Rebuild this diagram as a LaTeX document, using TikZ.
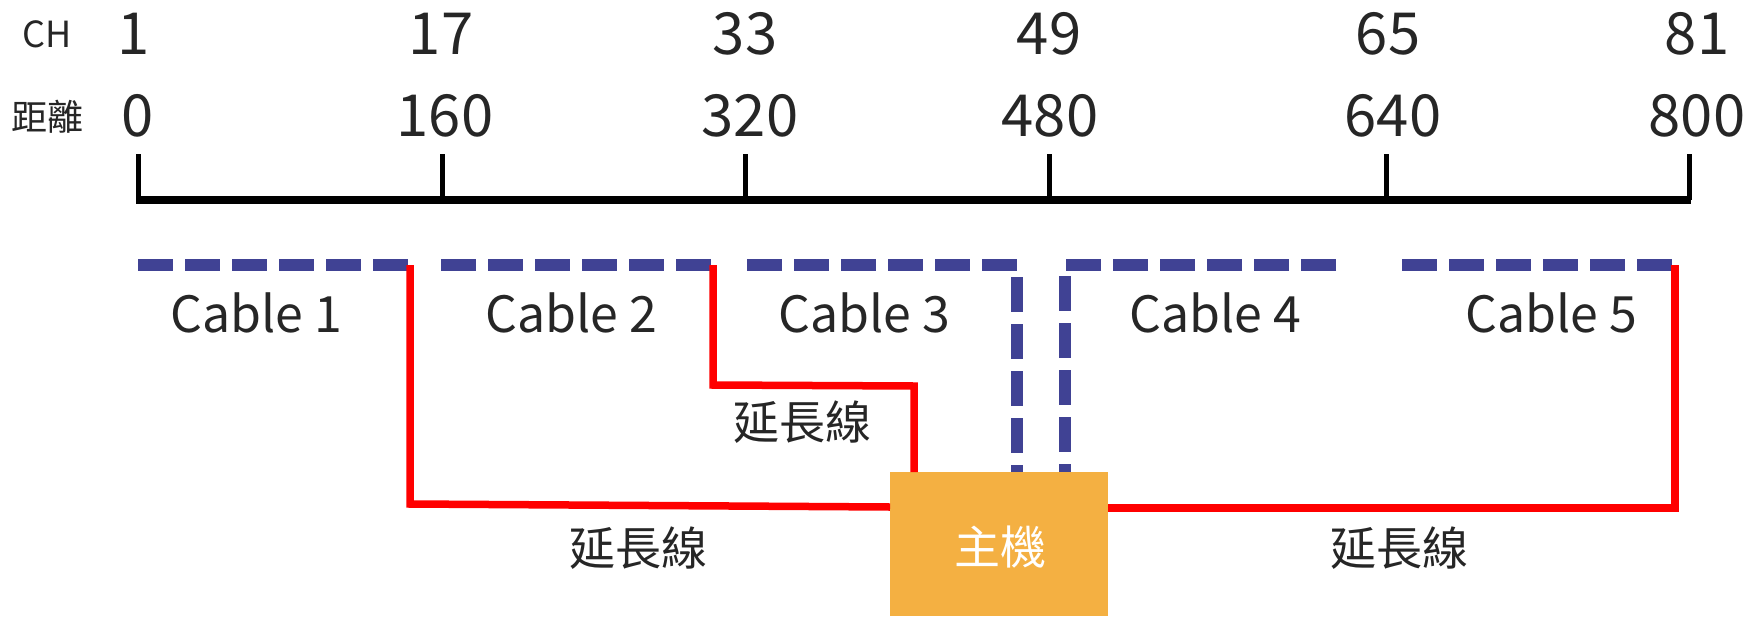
\documentclass[tikz,border=0pt]{standalone}
\usepackage{fontspec}
\setmainfont{Noto Sans CJK TC}
\definecolor{txt}{HTML}{262626}
\definecolor{cblue}{HTML}{404294}
\definecolor{cred}{HTML}{FF0000}
\definecolor{corange}{HTML}{F4B042}
\begin{document}
\begin{tikzpicture}[x=1pt,y=-1pt,
  lbl/.style={text=txt,inner sep=0pt,anchor=center},
  num/.style={lbl,font=\fontsize{58}{60}\selectfont},
  small/.style={lbl,font=\fontsize{36}{38}\selectfont},
  cab/.style={lbl,font=\fontsize{50}{52}\selectfont},
  ext/.style={lbl,font=\fontsize{46}{48}\selectfont},
  axis/.style={line width=7.5pt,black},
  tick/.style={line width=5pt,black},
  cable/.style={line width=11.5pt,cblue,dash pattern=on 35pt off 12pt},
  extline/.style={line width=7.5pt,cred},
  host/.style={fill=corange,draw=none,minimum width=218pt,minimum height=144pt,inner sep=0pt,text=white,font=\fontsize{46}{48}\selectfont}]
\useasboundingbox (0,0) rectangle (1761,616);
\fill[white] (0,0) rectangle (1761,616);
% header labels
\node[small] (chlbl) at (47,34) {CH};
\node[small] (distlbl) at (47,117) {距離};
% channel numbers
\node[num] (ch1) at (134,34) {1};
\node[num] (ch17) at (441,34) {17};
\node[num] (ch33) at (745,34) {33};
\node[num] (ch49) at (1049,34) {49};
\node[num] (ch65) at (1388,34) {65};
\node[num] (ch81) at (1697,34) {81};
% distances
\node[num] (d0) at (138,116) {0};
\node[num] (d160) at (445,116) {160};
\node[num] (d320) at (750,116) {320};
\node[num] (d480) at (1050,116) {480};
\node[num] (d640) at (1393,116) {640};
\node[num] (d800) at (1697,116) {800};
% axis
\coordinate (a0) at (136,200);
\coordinate (a800) at (1691,200);
\draw[axis] (a0) -- (a800);
\foreach \x/\n in {138/0,442/1,745/2,1049/3,1386/4,1689/5}{
  \coordinate (t\n) at (\x,154);
  \coordinate (b\n) at (\x,200);
  \draw[tick] (t\n) -- (b\n);
}
% host
\node[host,anchor=north west] (host) at (890,472) {};
\node[text=white,inner sep=0pt,font=\fontsize{46}{48}\selectfont] (hostlbl) at (1000,547) {主機};
% cables
\coordinate (c1s) at (138,265); \coordinate (c1e) at (408,265);
\coordinate (c2s) at (441,265); \coordinate (c2e) at (713,265);
\coordinate (c3s) at (747,265); \coordinate (c3k) at (1017,265); \coordinate (c3e) at (1017,472);
\coordinate (c4s) at (1065,472); \coordinate (c4k) at (1065,265); \coordinate (c4e) at (1336,265);
\coordinate (c5s) at (1402,265); \coordinate (c5e) at (1673,265);
\draw[cable] (c1s) -- (c1e);
\draw[cable] (c2s) -- (c2e);
\draw[cable] (c3s) -- (c3k) -- (c3e);
\draw[cable] (c4e) -- (c4k) -- (c4s);
\draw[cable] (c5s) -- (c5e);
\node[cab] (cab1) at (256,313) {Cable 1};
\node[cab] (cab2) at (571,313) {Cable 2};
\node[cab] (cab3) at (864,313) {Cable 3};
\node[cab] (cab4) at (1215,313) {Cable 4};
\node[cab] (cab5) at (1551,313) {Cable 5};
% extension lines
\coordinate (r1a) at (410,265); \coordinate (r1b) at (410,504); \coordinate (r1c) at (890,507);
\coordinate (r2a) at (713,265); \coordinate (r2b) at (713,385); \coordinate (r2c) at (914,386); \coordinate (r2d) at (914,472);
\coordinate (r3a) at (1675,265); \coordinate (r3b) at (1675,508); \coordinate (r3c) at (1108,508);
\draw[extline] (r1a) -- (r1b) -- (r1c);
\draw[extline] (r2a) -- (r2b) -- (r2c) -- (r2d);
\draw[extline] (r3a) -- (r3b) -- (r3c);
\node[ext] (ext1) at (802,422) {延長線};
\node[ext] (ext2) at (638,548) {延長線};
\node[ext] (ext3) at (1399,548) {延長線};
\end{tikzpicture}
\end{document}
